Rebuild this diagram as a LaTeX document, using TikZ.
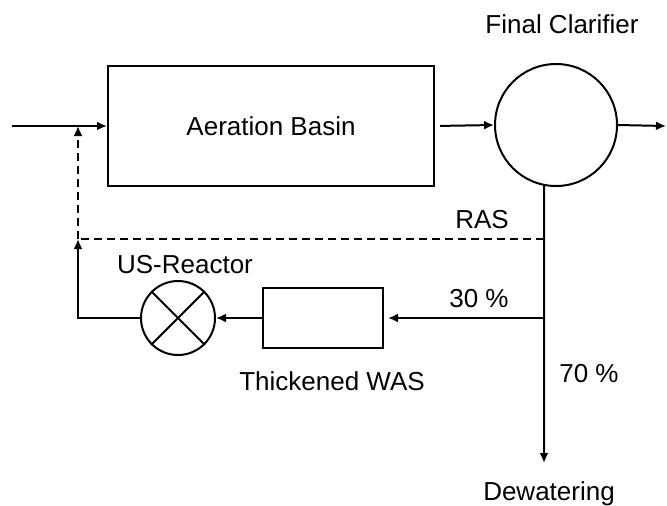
\documentclass[tikz,border=0pt]{standalone}
\usepackage{fontspec}
\setmainfont{Liberation Sans}
\usetikzlibrary{arrows.meta,positioning}

\begin{document}
\begin{tikzpicture}[x=0.5pt,y=-0.5pt,line width=1pt,
  >={Latex[length=5pt,width=4.5pt]},
  font=\fontsize{13}{15}\selectfont,
  box/.style={draw,line width=1pt,inner sep=0pt},
  tank/.style={draw,circle,line width=1pt,inner sep=0pt},
  lbl/.style={anchor=base,inner sep=0pt}]
\useasboundingbox (0,0) rectangle (667,505);
% Anlage
\node[box,minimum width=163pt,minimum height=60pt] (basin) at (271,126) {Aeration Basin};
\node[tank,minimum size=61pt] (clar) at (556,125) {};
\node[box,minimum width=60pt,minimum height=30pt] (was) at (323,318) {};
\node[tank,minimum size=37pt] (us) at (178,318) {};
\draw (us.45) -- (us.225) (us.135) -- (us.-45); % Kreuz
% Punkte
\coordinate (in) at (12,126);
\coordinate (mix) at (78,126);
\coordinate (ret) at (78,239);
\coordinate (ras) at (544,239);
\coordinate (split) at (544,318);
\coordinate (out) at (666,126);
\coordinate (dew) at (544,463);
% Leitungen
\draw[->] (in) -- (basin.west);
\draw[->,shorten <=2.5pt] (basin.east) -- (clar.west);
\draw[->] (clar.east) -- (out);
\draw[->] (clar.-101) -- (dew);
\draw[dashed,dash pattern=on 4pt off 2.5pt] (ras) -- (ret);
\draw[->,dashed,dash pattern=on 4pt off 2.5pt] (ret) -- (mix);
\draw[->,shorten >=2pt] (split) -- (was.east);
\draw[->] (was.west) -- (us.east);
\draw[->] (us.west) -| (ret);
% Texte
\node[lbl] (fclbl) at (562,33) {Final Clarifier};
\node[lbl] (raslbl) at (482,228) {RAS};
\node[lbl] (uslbl) at (185,273) {US-Reactor};
\node[lbl] (waslbl) at (332,390) {Thickened WAS};
\node[lbl] (p30) at (479,307) {30 \%};
\node[lbl] (p70) at (589,382) {70 \%};
\node[lbl] (dewlbl) at (549,500) {Dewatering};
\end{tikzpicture}
\end{document}
